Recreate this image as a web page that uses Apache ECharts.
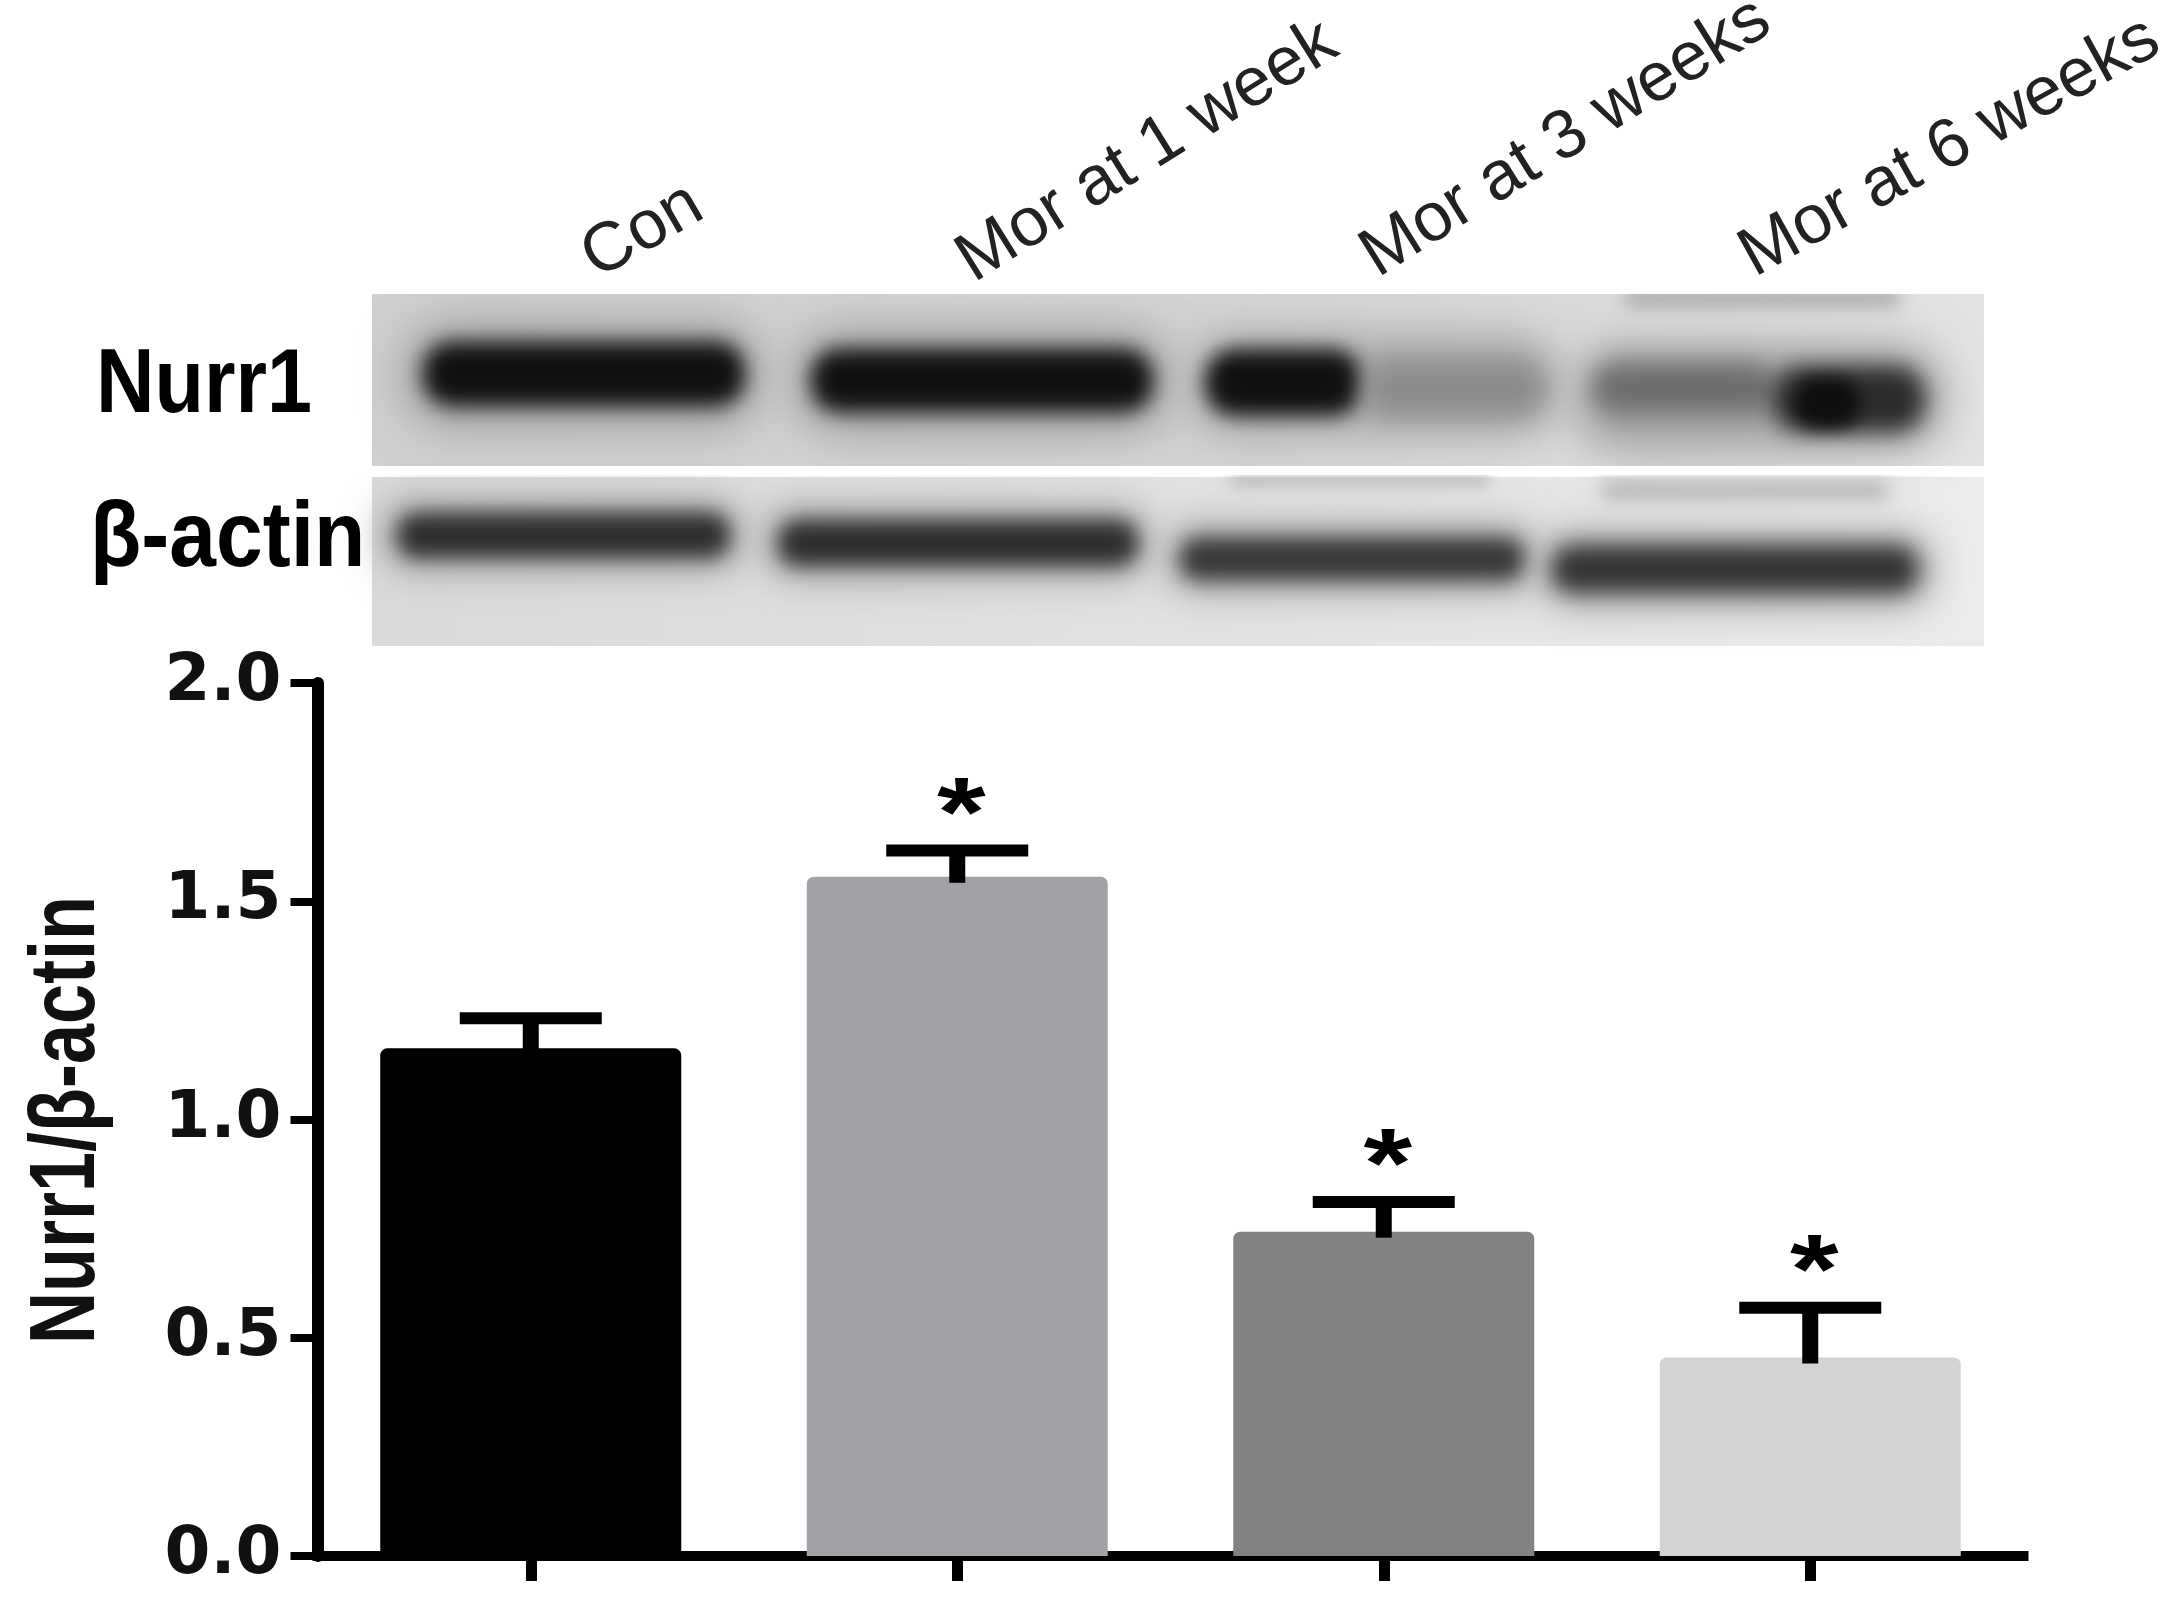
<!DOCTYPE html>
<html>
<head>
<meta charset="utf-8">
<style>html,body{margin:0;padding:0;background:#fff}#c{width:2176px;height:1616px}</style>
<script src="https://cdn.jsdelivr.net/npm/echarts@6/dist/echarts.min.js"></script>
</head>
<body>
<div id="c"></div>
<script>
const barCategories = ['Con', 'Mor at 1 week', 'Mor at 3 weeks', 'Mor at 6 weeks'];
const meanValues = [1.163, 1.556, 0.743, 0.455];
const upperValues = [1.232, 1.616, 0.811, 0.569];
const starMarks = ['', '*', '*', '*'];
const barColors = ['#000000', '#a3a1a6', '#828282', '#d3d3d3'];
const yTickLabels = ['0.0', '0.5', '1.0', '1.5', '2.0'];
const yAxisTitle = 'Nurr1/β-actin';

// Decoration only: the western-blot picture above the chart [x0,y0,x1,y1,colour,blur]
const blotPanels = [
  [372, 294, 1984, 466, '#cfcfcf', '#d2d2d2', '#e4e4e4'],
  [372, 477, 1984, 646, '#dadada', '#e2e2e2', '#ececec']
];
const blotBands = [
  [1624, 290, 1901, 306, '#a4a4a4', 18],
  // halos
  [405, 325, 760, 425, '#9a9a9a', 44],
  [795, 332, 1170, 430, '#9a9a9a', 44],
  [1190, 335, 1560, 435, '#a8a8a8', 44],
  [1575, 345, 1945, 450, '#a0a0a0', 44],
  [380, 498, 745, 572, '#a8a8a8', 36],
  [762, 505, 1152, 580, '#a8a8a8', 36],
  [1165, 522, 1540, 594, '#a8a8a8', 36],
  [1538, 530, 1934, 608, '#a8a8a8', 36],
  // Nurr1 bands
  [423, 342, 745, 406, '#111111', 20],
  [811, 349, 1153, 412, '#111111', 20],
  [1205, 349, 1362, 416, '#111111', 20],
  [1365, 360, 1545, 416, '#8c8c8c', 26],
  [1593, 364, 1775, 412, '#6c6c6c', 24],
  [1772, 366, 1925, 432, '#2c2c2c', 22],
  [1795, 378, 1860, 428, '#0e0e0e', 16],
  // beta-actin smudges and bands
  [1230, 476, 1490, 486, '#b4b4b4', 14],
  [1600, 482, 1890, 500, '#b4b4b4', 18],
  [397, 513, 730, 558, '#2e2e2e', 20],
  [778, 520, 1138, 566, '#2e2e2e', 20],
  [1180, 538, 1524, 580, '#383838', 20],
  [1552, 546, 1918, 592, '#323232', 22]
];
const blotLabels = [
  { text: 'Nurr1', x: 96, y: 432, size: 81, sy: 1.12 },
  { text: 'β-actin', x: 90, y: 587, size: 84, sy: 1.1 }
];
const topLabelAnchors = [[605, 293], [982, 296], [1386, 291], [1762, 291]];
const topLabelAngles = [30, 32, 32, 29];

const OFF = 4000;
const graphics = [];
blotPanels.forEach(p => graphics.push({
  type: 'rect', z: 1, silent: true,
  shape: { x: p[0], y: p[1], width: p[2] - p[0], height: p[3] - p[1] },
  style: { fill: new echarts.graphic.LinearGradient(0, 0, 1, 1, [
    { offset: 0, color: p[4] }, { offset: 0.5, color: p[5] }, { offset: 1, color: p[6] }
  ]) }
}));
blotBands.forEach(b => graphics.push({
  type: 'rect', z: 2, silent: true,
  shape: { x: b[0] - OFF, y: b[1], width: b[2] - b[0], height: b[3] - b[1], r: (b[3] - b[1]) / 2.2 },
  style: { fill: '#000', shadowColor: b[4], shadowBlur: b[5], shadowOffsetX: OFF }
}));
[[372, 250, 1620, 44], [1500, 250, 500, 44], [360, 466, 1640, 9], [1984, 280, 60, 380]].forEach(m => graphics.push({
  type: 'rect', z: 3, silent: true,
  shape: { x: m[0], y: m[1], width: m[2], height: m[3] },
  style: { fill: '#ffffff' }
}));
blotLabels.forEach(l => graphics.push({
  type: 'text', z: 5, silent: true, x: l.x, y: l.y, scaleY: l.sy,
  style: { text: l.text, font: 'bold ' + l.size + 'px "Liberation Sans"', fill: '#000', textAlign: 'left', textVerticalAlign: 'bottom' }
}));
barCategories.forEach((c, i) => graphics.push({
  type: 'text', z: 5, silent: true, x: topLabelAnchors[i][0], y: topLabelAnchors[i][1], rotation: topLabelAngles[i] * Math.PI / 180,
  style: { text: c, font: '69px "Liberation Sans"', fill: '#222', textAlign: 'left', textVerticalAlign: 'bottom' }
}));
graphics.push({
  type: 'text', z: 5, silent: true, x: 68, y: 1120, rotation: Math.PI / 2, scaleY: 1.3,
  style: { text: yAxisTitle, font: 'bold 72px "Liberation Sans"', fill: '#111', textAlign: 'center', textVerticalAlign: 'middle' }
});

const chart = echarts.init(document.getElementById('c'), null, { renderer: 'canvas' });
chart.setOption({
  animation: false,
  backgroundColor: '#ffffff',
  graphic: { elements: graphics },
  grid: { left: 317.5, top: 683, width: 1706, height: 873, containLabel: false, outerBoundsMode: 'none' },
  xAxis: {
    type: 'category', data: barCategories,
    axisLine: { lineStyle: { color: '#000', width: 10, cap: 'square' } },
    axisTick: { show: true, alignWithLabel: true, length: 25, lineStyle: { color: '#000', width: 11 } },
    axisLabel: { show: false }, splitLine: { show: false }
  },
  yAxis: {
    type: 'value', min: 0, max: 2, interval: 0.5,
    axisLine: { show: true, lineStyle: { color: '#000', width: 12 } },
    axisTick: { show: true, length: 27, lineStyle: { color: '#000', width: 8 } },
    axisLabel: {
      margin: 36, color: '#111', fontFamily: '"DejaVu Sans"', fontWeight: 'bold', fontSize: 66, padding: [8, 0, 0, 0],
      formatter: (v) => yTickLabels[Math.round(v / 0.5)]
    },
    splitLine: { show: false }
  },
  series: [
    {
      type: 'bar', barWidth: 301, z: 2,
      data: meanValues.map((v, i) => ({ value: v, itemStyle: { color: barColors[i], borderRadius: [7, 7, 0, 0] } }))
    },
    {
      type: 'custom', z: 3, clip: false,
      data: meanValues.map((v, i) => [i, v, upperValues[i]]),
      encode: { x: 0, y: [1, 2] },
      renderItem: (params, api) => {
        const i = api.value(0);
        const top = api.coord([i, api.value(2)]);
        const base = api.coord([i, api.value(1)]);
        const children = [
          { type: 'rect', shape: { x: top[0] - 71, y: top[1] - 6, width: 142, height: 12 }, style: { fill: '#000' } },
          { type: 'rect', shape: { x: top[0] - 8, y: top[1], width: 16, height: base[1] - top[1] + 6 }, style: { fill: '#000' } }
        ];
        if (starMarks[i]) {
          children.push({
            type: 'text', x: top[0] + 4, y: top[1] - 32, scaleY: 0.78,
            style: { text: starMarks[i], font: 'bold 125px "Liberation Sans"', fill: '#000', textAlign: 'center', textVerticalAlign: 'middle' }
          });
        }
        return { type: 'group', children };
      }
    }
  ]
});
</script>
</body>
</html>
